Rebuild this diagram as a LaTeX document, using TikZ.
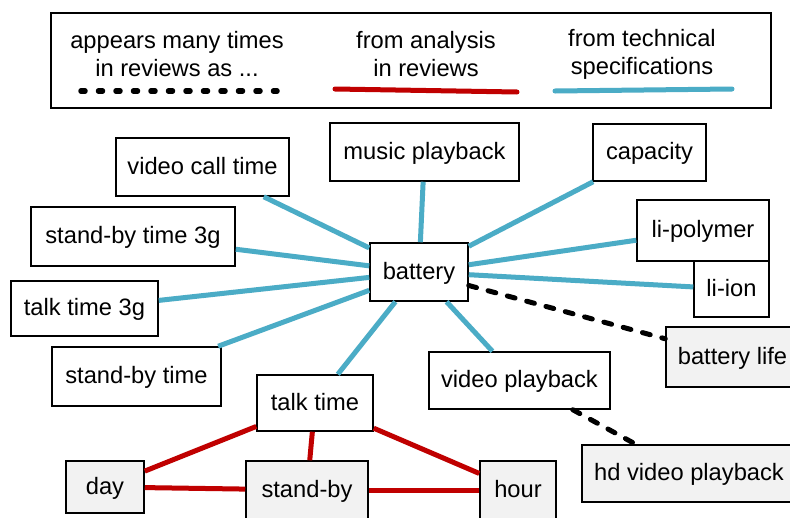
\documentclass[tikz,border=0pt]{standalone}
\usepackage{fontspec}
\setmainfont{Liberation Sans}
\definecolor{techblue}{HTML}{4BACC6}
\definecolor{revred}{HTML}{C00000}
\definecolor{boxgray}{HTML}{F2F2F2}
\tikzset{
  box/.style={draw=black, line width=1.5pt, fill=white, inner sep=0pt,
    font=\fontsize{23.7}{28}\selectfont, text height=18pt, text depth=4pt},
  revbox/.style={box, fill=boxgray},
  legendtext/.style={inner sep=0pt, align=center, font=\fontsize{23.7}{28}\selectfont},
  spec/.style={techblue, line width=5pt},
  anal/.style={revred, line width=5pt},
  often/.style={black, line width=5pt, line cap=round, dash pattern=on 8pt off 12pt},
  oftenleg/.style={black, line width=5.5pt, line cap=round, dash pattern=on 4pt off 13.5pt}
}
\begin{document}
\begin{tikzpicture}[x=1pt, y=-1pt]
\clip (0,0) rectangle (790,517);
\useasboundingbox (0,0) rectangle (790,517);
\fill[white] (0,0) rectangle (790,517);
% legend
\node[draw=black, line width=1.5pt, minimum width=720pt, minimum height=95pt, inner sep=0pt] (legend) at (411,60.5) {};
\node[legendtext] (lt1) at (177,54) {appears many times\\in reviews as ...};
\node[legendtext] (lt2) at (426,54) {from analysis\\in reviews};
\node[legendtext] (lt3) at (642,54) {from technical\\specifications};
\coordinate (d1) at (81,91);
\coordinate (d2) at (277,91);
\coordinate (r1) at (335,89);
\coordinate (r2) at (517,92);
\coordinate (b1) at (555,91);
\coordinate (b2) at (732,89);
\draw[oftenleg] (d1) -- (d2);
\draw[anal, line cap=round] (r1) -- (r2);
\draw[spec, line cap=round] (b1) -- (b2);
% nodes
\node[box, minimum width=98pt, minimum height=58pt] (bat) at (419,272) {battery};
\node[box, minimum width=173pt, minimum height=58pt] (vct) at (202.5,167) {video call time};
\node[box, minimum width=204pt, minimum height=59pt] (sbt3) at (133,236.5) {stand-by time 3g};
\node[box, minimum width=147pt, minimum height=55pt] (tt3) at (84.5,308.5) {talk time 3g};
\node[box, minimum width=169pt, minimum height=59pt] (sbt) at (136.5,376.5) {stand-by time};
\node[box, minimum width=189pt, minimum height=58pt] (mus) at (424.5,152) {music playback};
\node[box, minimum width=113pt, minimum height=57pt] (cap) at (649.5,152.5) {capacity};
\node[box, minimum width=132pt, minimum height=61pt] (lip) at (703,230.5) {li-polymer};
\node[box, minimum width=75pt, minimum height=56pt] (lii) at (731.5,289) {li-ion};
\node[revbox, minimum width=133pt, minimum height=60pt] (bl) at (732.5,357) {battery life};
\node[box, minimum width=181pt, minimum height=57pt] (vp) at (519.5,380.5) {video playback};
\node[revbox, minimum width=214pt, minimum height=57pt] (hdv) at (689,473.5) {hd video playback};
\node[box, minimum width=116pt, minimum height=56pt] (tt) at (315,403) {talk time};
\node[revbox, minimum width=78pt, minimum height=52pt] (day) at (105,487) {day};
\node[revbox, minimum width=122pt, minimum height=58pt] (sb) at (307,490) {stand-by};
\node[revbox, minimum width=76pt, minimum height=58pt] (hour) at (518,490) {hour};
% connectors
\draw[spec] (vct) -- (bat);
\draw[spec] (sbt3) -- (bat);
\draw[spec] (tt3) -- (bat);
\draw[spec] (sbt) -- (bat);
\draw[spec] (tt) -- (bat);
\draw[spec] (mus) -- (bat);
\draw[spec] (cap) -- (bat);
\draw[spec] (lip) -- (bat);
\draw[spec] (lii) -- (bat);
\draw[spec] (vp) -- (bat);
\draw[often] (bat) -- (bl);
\draw[often] (vp) -- (hdv);
\draw[anal] (tt) -- (day);
\draw[anal] (tt) -- (sb);
\draw[anal] (tt) -- (hour);
\draw[anal] (day) -- (sb);
\draw[anal] (sb) -- (hour);
\end{tikzpicture}
\end{document}
